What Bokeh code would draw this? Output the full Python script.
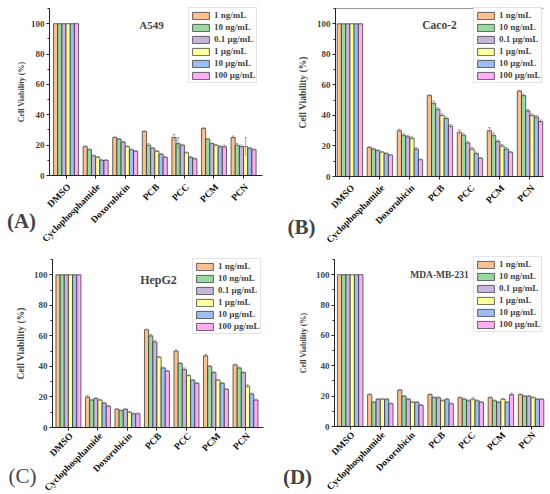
import math
from bokeh.plotting import figure
from bokeh.layouts import column, row
from bokeh.models import (FixedTicker, Legend, LegendItem, Label, ColumnDataSource, AllLabels)
from bokeh.embed import file_html
from bokeh.resources import INLINE

categories = ["DMSO", "Cyclophosphamide", "Doxorubicin", "PCB", "PCC", "PCM", "PCN"]
concentrations = ["1 ng/mL", "10 ng/mL", "0.1 \u00b5g/mL", "1 \u00b5g/mL", "10 \u00b5g/mL", "100 \u00b5g/mL"]
colors = ["#F9C18F", "#98D9A1", "#C6B6DB", "#FFFF9E", "#9CBEF2", "#FFAEF6"]
y_ticks = [0, 20, 40, 60, 80, 100]
y_minor = [10, 30, 50, 70, 90, 110]

# rows = categories, columns = concentrations
a549 = [
    [100, 100, 100, 100, 100, 100],
    [19, 17, 13, 12, 10, 10],
    [25, 24, 22, 19, 17, 16],
    [29, 20, 18, 16, 14, 12],
    [25, 21, 20, 15, 12, 11],
    [31, 24, 21, 20, 19, 19],
    [25, 20, 19, 19, 18, 17],
]
a549_err = [
    [0, 0, 0, 0, 0, 0],
    [0.5, 0.5, 0.5, 0.5, 0.5, 0.5],
    [0.5, 0.5, 0.5, 0.5, 0.5, 0.5],
    [0.5, 1, 0.5, 0.5, 0.5, 0.5],
    [2, 4, 0.5, 0.5, 0.5, 0.5],
    [0.5, 0.5, 0.5, 0.5, 0.5, 1],
    [1, 1, 1, 6, 0.5, 0.5],
]
caco2 = [
    [100, 100, 100, 100, 100, 100],
    [19, 18, 17, 16, 15, 14],
    [30, 27, 26, 25, 18, 11],
    [53, 48, 44, 40, 38, 33],
    [29, 27, 22, 18, 15, 12],
    [30, 27, 23, 20, 18, 16],
    [56, 53, 43, 40, 39, 36],
]
caco2_err = [
    [0, 0, 0, 0, 0, 0],
    [0.5, 0.5, 0.5, 0.5, 0.5, 0.5],
    [1, 1, 1, 1, 1, 0.5],
    [0.5, 1.5, 1, 1, 1, 1],
    [1.5, 1, 1, 1, 1, 0.5],
    [2, 1.5, 1, 1, 1, 0.5],
    [0.5, 1, 1, 1, 1, 1],
]
hepg2 = [
    [100, 100, 100, 100, 100, 100],
    [20, 18, 19, 18, 16, 14],
    [12, 11, 12, 10, 9, 9],
    [64, 60, 56, 46, 39, 37],
    [50, 42, 38, 34, 31, 29],
    [47, 40, 36, 31, 29, 25],
    [41, 39, 36, 27, 22, 18],
]
hepg2_err = [
    [0, 0, 0, 0, 0, 0],
    [1, 0.5, 0.5, 0.5, 0.5, 0.5],
    [0.5, 0.5, 0.5, 0.5, 0.5, 0.5],
    [0.5, 1, 1, 0.5, 0.5, 0.5],
    [1, 0.5, 1, 0.5, 0.5, 0.5],
    [1, 0.5, 0.5, 0.5, 0.5, 0.5],
    [0.5, 0.5, 0.5, 1, 0.5, 0.5],
]
mda = [
    [100, 100, 100, 100, 100, 100],
    [21, 16, 18, 18, 18, 15],
    [24, 20, 18, 16, 16, 14],
    [21, 19, 19, 17, 18, 15],
    [19, 18, 17, 18, 17, 16],
    [19, 17, 16, 18, 16, 21],
    [21, 20, 20, 19, 18, 18],
]
mda_err = [
    [0, 0, 0, 0, 0, 0],
    [0.5, 0.5, 0.5, 0.5, 0.5, 0.5],
    [0.5, 0.5, 0.5, 0.5, 0.5, 0.5],
    [0.5, 0.5, 0.5, 0.5, 0.5, 0.5],
    [0.5, 0.5, 0.5, 1, 0.5, 0.5],
    [0.5, 0.5, 0.5, 0.5, 0.5, 1],
    [0.5, 0.5, 0.5, 0.5, 0.5, 0.5],
]

SERIF = "Liberation Serif"

# layout (page pixels): figure origin/size, inner plotting box, inner x range
panels = [
    dict(name="A549", vals=a549, err=a549_err, ox=0, oy=0, w=275, h=247, box=(49, 262, 8, 175),
         xr=(-0.56, 6.64), ylab=8, ystand=2, tpos=(151, 24), tsize=11, plab="(A)", ppos=(21, 220),
         pstyle="bold", legpos=(188, 83), topline=False, catdy=10),
    dict(name="Caco-2", vals=caco2, err=caco2_err, ox=275, oy=0, w=275, h=247, box=(335, 543, 8, 176),
         xr=(-0.48, 6.45), ylab=9.5, ystand=6, tpos=(439, 24), tsize=11.5, plab="(B)", ppos=(301, 226),
         pstyle="bold", legpos=(473, 83), topline=True, catdy=10),
    dict(name="HepG2", vals=hepg2, err=hepg2_err, ox=0, oy=247, w=275, h=247, box=(52, 263, 259, 427),
         xr=(-0.54, 6.61), ylab=9.5, ystand=5, tpos=(158, 279), tsize=12, plab="(C)", ppos=(22, 475),
         pstyle="normal", legpos=(192, 334), topline=False, catdy=7),
    dict(name="MDA-MB-231", vals=mda, err=mda_err, ox=275, oy=247, w=275, h=247, box=(334, 542, 259, 426),
         xr=(-0.52, 6.38), ylab=8, ystand=5, tpos=(439, 274), tsize=9.5, plab="(D)", ppos=(297, 476),
         pstyle="bold", legpos=(473, 332), topline=False, catdy=7),
]

YMAX = 110
BW = 0.141


def outer_ranges(c):
    fl, fr, ft, fb = c["box"]
    xl, xrr = c["xr"]
    xpp = (xrr - xl) / (fr - fl)
    ypp = YMAX / (fb - ft)
    x0 = xl - (fl - c["ox"]) * xpp
    x1 = xrr + (c["ox"] + c["w"] - fr) * xpp
    y0 = -(c["oy"] + c["h"] - fb) * ypp
    y1 = YMAX + (ft - c["oy"]) * ypp
    return (x0, x1), (y0, y1), xpp, ypp


def to_data(c, px, py):
    (x0, _), (_, y1), xpp, ypp = outer_ranges(c)
    return x0 + (px - c["ox"]) * xpp, y1 - (py - c["oy"]) * ypp


def make_panel(c):
    xrng, yrng, xpp, ypp = outer_ranges(c)
    p = figure(width=c["w"], height=c["h"], x_range=xrng, y_range=yrng,
               output_backend="svg", toolbar_location=None,
               min_border_left=0, min_border_right=0, min_border_top=0, min_border_bottom=0)
    p.xgrid.visible = False
    p.ygrid.visible = False
    p.outline_line_color = None
    p.background_fill_color = "white"

    items = []
    for j, conc in enumerate(concentrations):
        xs = [i + (j - 2.5) * BW for i in range(len(categories))]
        tops = [c["vals"][i][j] for i in range(len(categories))]
        errs = [c["err"][i][j] for i in range(len(categories))]
        src = ColumnDataSource(dict(
            x=xs, top=tops,
            lo=[t - e for t, e in zip(tops, errs)],
            hi=[t + e for t, e in zip(tops, errs)],
            cl=[x - BW * 0.3 for x in xs],
            cr=[x + BW * 0.3 for x in xs],
        ))
        r = p.vbar(x="x", top="top", width=BW, bottom=0, source=src,
                   fill_color=colors[j], line_color="#2a2a2a", line_width=0.7)
        p.segment(x0="x", y0="lo", x1="x", y1="hi", source=src, line_color="#8c8c8c", line_width=0.8)
        p.segment(x0="cl", y0="hi", x1="cr", y1="hi", source=src, line_color="#8c8c8c", line_width=0.8)
        items.append(LegendItem(label=conc, renderers=[r]))

    lx0 = c["legpos"][0] - c["ox"]
    ly0 = c["oy"] + c["h"] - c["legpos"][1]
    leg = Legend(items=items, location=(lx0, ly0), margin=0,
                 padding=1, spacing=0, glyph_width=21, glyph_height=9, label_height=12,
                 label_standoff=3, label_text_font=SERIF, label_text_font_style="bold",
                 label_text_font_size="9px", border_line_color="#c8c8c8", border_line_width=1,
                 background_fill_color="white", background_fill_alpha=1)
    p.add_layout(leg)

    # y axis, drawn at the left edge of the plotting box
    p.yaxis.fixed_location = c["xr"][0]
    p.yaxis.bounds = (0, YMAX)
    p.yaxis.ticker = FixedTicker(ticks=y_ticks, minor_ticks=y_minor)
    p.yaxis.major_label_policy = AllLabels()
    p.yaxis.major_tick_in = 0
    p.yaxis.major_tick_out = 3
    p.yaxis.minor_tick_in = 0
    p.yaxis.minor_tick_out = 2
    p.yaxis.major_label_text_font = SERIF
    p.yaxis.major_label_text_font_style = "bold"
    p.yaxis.major_label_text_font_size = "9px"
    p.yaxis.major_label_standoff = 2
    p.yaxis.axis_label = "Cell Viability (%)"
    p.yaxis.axis_label_text_font = SERIF
    p.yaxis.axis_label_text_font_style = "bold"
    p.yaxis.axis_label_text_font_size = "%spx" % c["ylab"]
    p.yaxis.axis_label_standoff = c["ystand"]
    # x axis at y = 0; names drawn as rotated labels below it
    p.xaxis.fixed_location = 0
    p.xaxis.bounds = c["xr"]
    p.xaxis.ticker = FixedTicker(ticks=list(range(len(categories))))
    p.xaxis.major_label_text_font_size = "0px"
    p.xaxis.major_label_overrides = {i: "" for i in range(len(categories))}
    p.xaxis.major_tick_in = 0
    p.xaxis.major_tick_out = 3
    p.xaxis.minor_tick_line_color = None
    for ax in (p.xaxis, p.yaxis):
        ax.axis_line_color = "#222222"
        ax.major_tick_line_color = "#222222"
    p.yaxis.minor_tick_line_color = "#222222"

    fb = c["box"][3]
    _, ylab_y = to_data(c, 0, fb + c["catdy"])
    for i, name in enumerate(categories):
        p.add_layout(Label(x=i + 3.0 * xpp, y=ylab_y, text=name, angle=math.pi / 4,
                           text_align="right", text_baseline="middle", text_font=SERIF,
                           text_font_style="bold", text_font_size="9.5px", text_color="#111111"))

    if c["topline"]:
        p.segment(x0=[c["xr"][0]], y0=[YMAX], x1=[c["xr"][1]], y1=[YMAX],
                  line_color="#9a9a9a", line_width=1)

    tx, ty = to_data(c, *c["tpos"])
    p.add_layout(Label(x=tx, y=ty, text=c["name"], text_font=SERIF, text_font_style="bold",
                       text_font_size="%spx" % c["tsize"], text_align="center", text_baseline="middle"))
    lx, ly = to_data(c, *c["ppos"])
    p.add_layout(Label(x=lx, y=ly, text=c["plab"], text_font=SERIF, text_font_style=c["pstyle"],
                       text_font_size="21px", text_align="center", text_baseline="middle"))
    return p


figs = [make_panel(c) for c in panels]
layout = column(row(figs[0], figs[1]), row(figs[2], figs[3]))

open("out.html", "w").write(file_html(layout, INLINE))
